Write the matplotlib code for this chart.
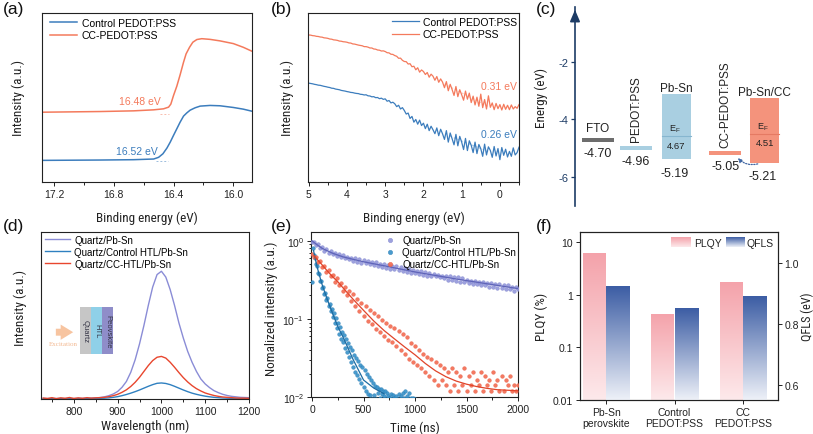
import numpy as np
import matplotlib

matplotlib.use('Agg')
import matplotlib.pyplot as plt
from matplotlib import font_manager
from matplotlib.colors import LinearSegmentedColormap
from matplotlib.patches import Rectangle, FancyArrowPatch
from matplotlib.ticker import MultipleLocator, NullFormatter


def pick_font(names):
    for n in names:
        try:
            font_manager.findfont(n, fallback_to_default=False)
            return n
        except ValueError:
            pass
    return 'DejaVu Sans'


BASE = pick_font(['Liberation Sans', 'Arial'])
NARROW = pick_font(['Liberation Sans Narrow', 'Roboto Condensed', BASE])
SERIF = pick_font(['Liberation Serif', 'DejaVu Serif'])
plt.rcParams['font.family'] = [BASE, 'DejaVu Sans']
plt.rcParams['axes.unicode_minus'] = False

# ---------------- data ----------------
# (a) secondary electron cutoff
a_e_ctrl = [17.276, 16.889, 16.667, 16.533, 16.500, 16.471, 16.444, 16.422, 16.400, 16.378, 16.356,
            16.333, 16.311, 16.289, 16.256, 16.222, 16.156, 16.089, 16.000, 15.933, 15.876]
a_y_ctrl = [12.8, 13.0, 13.2, 13.6, 14.6, 16.7, 20.1, 23.6, 27.6, 31.5, 35.4,
            39.0, 40.9, 42.5, 43.9, 44.9, 45.3, 45.1, 44.1, 43.1, 41.9]
a_e_cc = [17.276, 16.889, 16.667, 16.533, 16.467, 16.433, 16.418, 16.400, 16.378, 16.356, 16.333,
          16.316, 16.293, 16.271, 16.244, 16.211, 16.156, 16.089, 16.000, 15.933, 15.876]
a_y_cc = [41.3, 41.7, 42.1, 42.7, 43.3, 44.3, 46.1, 51.2, 56.7, 63.4, 70.9,
          75.8, 79.7, 82.7, 84.3, 84.8, 84.4, 83.5, 81.9, 79.7, 77.4]
a_tan_ctrl_e = [16.52, 16.44]
a_tan_ctrl_y = [12.2, 12.2]
a_tan_cc_e = [16.49, 16.43]
a_tan_cc_y = [40.0, 40.0]
a_onsets = ['16.52 eV', '16.48 eV']

# (b) valence band region, sampled every 0.05 eV from 5.0 to -0.5
b_y_cc = [87.0, 86.9, 86.6, 86.5, 86.2, 86.1, 85.8, 85.7, 85.3, 85.2, 85.0, 84.6, 84.5, 84.1, 84.0,
          83.8, 83.4, 83.3, 83.0, 82.9, 82.7, 82.3, 82.2, 81.7, 81.6, 81.3, 81.0, 80.8, 80.6, 80.1,
          80.1, 79.8, 79.3, 79.3, 78.7, 78.6, 78.1, 78.0, 77.5, 77.6, 77.2, 76.5, 76.4, 75.6, 75.5,
          74.8, 74.4, 73.2, 73.3, 72.0, 71.3, 71.2, 69.8, 70.0, 68.2, 68.5, 66.4, 67.6, 65.0, 66.3,
          65.4, 63.6, 64.8, 62.0, 63.8, 62.6, 60.2, 62.4, 59.0, 61.0, 59.1, 55.8, 59.4, 54.0, 57.8,
          54.7, 51.2, 56.5, 50.5, 54.6, 51.6, 48.4, 53.8, 49.0, 52.6, 47.0, 50.8, 45.6, 50.2, 44.8,
          52.0, 44.0, 48.8, 43.2, 51.0, 44.2, 46.8, 42.8, 46.5, 43.4, 45.8, 42.6, 46.0, 43.0, 45.4,
          42.8, 45.6, 43.2, 44.6, 43.6, 45.8]
b_y_ctrl = [58.5, 58.3, 58.1, 57.8, 57.6, 57.3, 57.2, 56.9, 56.6, 56.4, 56.1, 55.9, 55.5, 55.4, 55.0,
            54.8, 54.6, 54.2, 54.0, 53.8, 53.5, 53.3, 53.0, 52.9, 52.6, 52.4, 52.3, 51.9, 51.8, 51.5,
            51.6, 51.0, 50.9, 50.4, 50.5, 49.9, 50.0, 49.3, 49.6, 48.9, 49.2, 47.8, 48.2, 46.8, 47.2,
            46.3, 44.6, 45.4, 43.2, 44.0, 42.3, 40.2, 40.8, 37.6, 38.8, 35.4, 37.0, 34.2, 36.6, 33.4,
            34.8, 31.6, 34.2, 30.4, 33.0, 30.9, 28.6, 32.0, 27.4, 31.2, 28.5, 25.2, 30.4, 23.6, 29.0,
            25.6, 22.0, 28.2, 21.4, 27.0, 23.6, 19.2, 25.8, 18.6, 24.4, 21.7, 17.4, 23.6, 16.8, 22.2,
            19.7, 15.2, 22.4, 16.0, 20.8, 18.7, 14.6, 21.0, 15.4, 19.8, 13.2, 20.4, 15.8, 19.4, 14.8,
            18.1, 15.2, 20.2, 16.0, 17.4, 20.6]
b_tan_cc_e = [1.45, 0.30]
b_tan_cc_y = [58.0, 44.6]
b_tan_ctrl_e = [1.30, 0.26]
b_tan_ctrl_y = [27.0, 17.6]
b_onsets = ['0.26 eV', '0.31 eV']

# (c) energy levels (drawn) and their labels
c_names = ['FTO', 'PEDOT:PSS', 'Pb-Sn', 'CC-PEDOT:PSS', 'Pb-Sn/CC']
c_level = [-4.70, -4.98, -5.39, -5.17, -5.50]
c_top = [None, None, -3.12, None, -3.24]
c_ef = [None, None, -4.57, None, -4.49]
c_text = ['-4.70', '-4.96', '-5.19', '-5.05', '-5.21']
c_ef_text = [None, None, '4.67', None, '4.51']

# (d) steady-state PL, every 10 nm from 730 to 1200
d_ps = [0.3, 0.3, 0.3, 0.3, 0.3, 0.3, 0.3, 0.3, 0.3, 0.4, 0.4, 0.5, 0.6, 0.9, 1.3, 2.0, 3.0, 4.5,
        7.0, 10.5, 16.0, 23.5, 33.0, 44.0, 56.0, 67.0, 74.5, 76.5, 73.0, 65.5, 56.0, 45.5, 36.5,
        28.5, 22.0, 16.5, 12.0, 9.0, 6.8, 5.0, 3.8, 2.8, 2.1, 1.6, 1.3, 1.0, 0.9, 0.8]
d_cc = [0.6, 0.3, 0.8, 0.2, 0.7, 0.4, 0.9, 0.3, 0.7, 0.4, 0.8, 0.5, 0.7, 0.8, 1.0, 1.4, 2.0, 2.8,
        4.0, 5.5, 7.5, 10.0, 13.0, 16.5, 20.0, 23.0, 25.0, 25.5, 24.5, 22.0, 19.0, 15.8, 12.8,
        10.2, 8.0, 6.2, 4.8, 3.6, 2.8, 2.1, 1.6, 1.2, 1.0, 0.8, 0.6, 0.5, 0.5, 0.4]
d_ctrl = [0.2, 0.2, 0.2, 0.2, 0.2, 0.2, 0.2, 0.2, 0.2, 0.2, 0.2, 0.3, 0.3, 0.4, 0.5, 0.7, 1.0, 1.4,
          2.0, 2.7, 3.5, 4.4, 5.4, 6.5, 7.6, 8.6, 9.4, 9.6, 9.3, 8.6, 7.6, 6.5, 5.4, 4.4, 3.5,
          2.8, 2.2, 1.7, 1.3, 1.0, 0.8, 0.6, 0.5, 0.4, 0.35, 0.3, 0.3, 0.3]

# (e) TRPL, Pb-Sn and CC every 20 ns (0-2000), control every 10 ns (0-1000)
e_ps = [0.98, 0.97, 0.89, 0.90, 0.81, 0.83, 0.75, 0.78, 0.71, 0.74, 0.67, 0.71, 0.64, 0.68, 0.62,
        0.65, 0.60, 0.63, 0.58, 0.61, 0.56, 0.60, 0.54, 0.58, 0.52, 0.57, 0.52, 0.55, 0.50, 0.54,
        0.49, 0.53, 0.48, 0.51, 0.46, 0.50, 0.45, 0.49, 0.44, 0.48, 0.44, 0.47, 0.43, 0.46, 0.41,
        0.45, 0.40, 0.44, 0.39, 0.42, 0.39, 0.41, 0.38, 0.41, 0.37, 0.40, 0.36, 0.39, 0.35, 0.38,
        0.35, 0.37, 0.34, 0.36, 0.33, 0.36, 0.32, 0.35, 0.32, 0.34, 0.31, 0.34, 0.30, 0.33, 0.30,
        0.32, 0.29, 0.31, 0.28, 0.31, 0.28, 0.30, 0.27, 0.30, 0.27, 0.29, 0.26, 0.29, 0.26, 0.28,
        0.25, 0.28, 0.25, 0.27, 0.24, 0.27, 0.24, 0.26, 0.23, 0.26, 0.24]
e_ctrl = [0.30, 0.82, 0.66, 0.61, 0.50, 0.47, 0.39, 0.38, 0.31, 0.31, 0.25, 0.26, 0.21, 0.215, 0.175,
          0.185, 0.145, 0.155, 0.125, 0.135, 0.105, 0.118, 0.090, 0.102, 0.076, 0.088, 0.065, 0.078,
          0.056, 0.068, 0.050, 0.062, 0.043, 0.055, 0.038, 0.049, 0.033, 0.044, 0.028, 0.040, 0.024,
          0.035, 0.021, 0.032, 0.019, 0.029, 0.017, 0.026, 0.015, 0.024, 0.0135, 0.022, 0.012, 0.020,
          0.011, 0.018, 0.0105, 0.0165, 0.0095, 0.015, 0.0105, 0.014, 0.0095, 0.0135, 0.0112, 0.0125,
          0.0098, 0.0125, 0.0108, 0.0118, 0.0102, 0.012, 0.0095, 0.0112, 0.0102, 0.0098, 0.0096, 0.011,
          0.0093, 0.0105, 0.0097, 0.0092, 0.0104, 0.0094, 0.0108, 0.0091, 0.0103, 0.0095, 0.0113,
          0.0096, 0.0118, 0.0093, 0.0102, 0.0095, 0.0111, 0.0094, 0.0098, 0.0092, 0.0096, 0.0091, 0.0094]
e_cc = [0.68, 0.63, 0.62, 0.53, 0.55, 0.46, 0.48, 0.40, 0.42, 0.35, 0.37, 0.30, 0.33, 0.27, 0.29,
        0.23, 0.26, 0.20, 0.23, 0.17, 0.21, 0.145, 0.18, 0.125, 0.16, 0.11, 0.145, 0.095, 0.13,
        0.085, 0.12, 0.075, 0.11, 0.068, 0.098, 0.060, 0.090, 0.054, 0.082, 0.050, 0.076, 0.045,
        0.070, 0.040, 0.064, 0.0353, 0.0588, 0.0306, 0.0494, 0.0282, 0.0447, 0.0259, 0.0400, 0.0235,
        0.0353, 0.0212, 0.0329, 0.0188, 0.0306, 0.0165, 0.0282, 0.0141, 0.0259, 0.0165, 0.0235,
        0.0141, 0.0212, 0.0118, 0.0235, 0.0141, 0.0212, 0.0118, 0.0188, 0.0141, 0.0235, 0.0118,
        0.0188, 0.0141, 0.0212, 0.0118, 0.0165, 0.0141, 0.0212, 0.0118, 0.0188, 0.0141, 0.0165,
        0.0118, 0.0212, 0.0141, 0.0165, 0.0118, 0.0188, 0.0118, 0.0165, 0.0141, 0.0188, 0.0118,
        0.0141, 0.0118, 0.0141]
e_fit_ps_t = [0, 50, 100, 200, 300, 400, 500, 700, 1000, 1400, 2000]
e_fit_ps = [1.0, 0.89, 0.80, 0.695, 0.625, 0.58, 0.54, 0.48, 0.40, 0.325, 0.245]
e_fit_ctrl_t = [15, 30, 50, 75, 100, 150, 200, 250, 300, 400, 500, 600, 700]
e_fit_ctrl = [0.75, 0.60, 0.46, 0.35, 0.27, 0.175, 0.117, 0.08, 0.059, 0.03, 0.0165, 0.013, 0.011]
e_fit_cc_t = [20, 50, 100, 150, 200, 250, 300, 400, 500, 600, 700, 800, 900, 1000, 1100, 1200,
              1300, 1400, 1500, 1600, 1700, 1800, 1900, 2000]
e_fit_cc = [0.645, 0.58, 0.49, 0.41, 0.347, 0.30, 0.251, 0.178, 0.129, 0.094, 0.071, 0.0556, 0.0437,
            0.0347, 0.0269, 0.0216, 0.0182, 0.016, 0.0146, 0.0136, 0.0129, 0.0124, 0.0122, 0.012]

# (f) PLQY / QFLS
f_cats = ['Pb-Sn\nperovskite', 'Control\nPEDOT:PSS', 'CC\nPEDOT:PSS']
f_plqy = [6.2, 0.44, 1.77]
f_qfls = [0.921, 0.849, 0.889]

# ---------------- styling ----------------
C_BLUE = '#3c7dbd'
C_ORANGE = '#f47a5c'
D_PURPLE, D_BLUE, D_RED = '#8a8cd6', '#2f80c0', '#e8462e'
E_PURPLE, E_BLUE, E_RED = '#9397db', '#3590c8', '#f36a50'
TXT = '#222222'
LAB_FS = 9.5

W, H = 813, 435
fig = plt.figure(figsize=(W / 100, H / 100), dpi=100)


def add_ax(l, t, r, b):
    return fig.add_axes([l / W, 1 - b / H, (r - l) / W, (b - t) / H])


def style(ax):
    for s in ax.spines.values():
        s.set_linewidth(0.8)
        s.set_color(TXT)
    ax.tick_params(which='both', direction='out', labelsize=7.5, width=0.7, colors=TXT, pad=2)
    ax.tick_params(which='major', length=3)
    ax.tick_params(which='minor', length=1.8)


def labels(ax, xl, yl, xy, yx, yy=0.5):
    ax.set_xlabel(xl, family=NARROW, fontsize=LAB_FS, color=TXT)
    ax.set_ylabel(yl, family=NARROW, fontsize=LAB_FS, color=TXT)
    ax.xaxis.set_label_coords(0.5, xy)
    ax.yaxis.set_label_coords(yx, yy)


# ---- (a) ----
ax = add_ax(42, 14, 252, 183)
ax.plot(a_e_ctrl, a_y_ctrl, color=C_BLUE, lw=1.1, label='Control PEDOT:PSS')
ax.plot(a_e_cc, a_y_cc, color=C_ORANGE, lw=1.1, label='CC-PEDOT:PSS')
ax.plot(a_tan_ctrl_e, a_tan_ctrl_y, color=C_BLUE, lw=0.7, ls=(0, (2, 2)), alpha=0.5)
ax.plot(a_tan_cc_e, a_tan_cc_y, color=C_ORANGE, lw=0.7, ls=(0, (2, 2)), alpha=0.5)
ax.text(16.644, 18.1, a_onsets[0], color=C_BLUE, ha='center', va='center', fontsize=7.5)
ax.text(16.627, 48.2, a_onsets[1], color=C_ORANGE, ha='center', va='center', fontsize=7.5)
ax.set_xlim(17.28, 15.875)
ax.set_ylim(0, 100)
ax.set_yticks([])
ax.set_xticks([17.2, 16.8, 16.4, 16.0])
ax.xaxis.set_minor_locator(MultipleLocator(0.2))
ax.legend(loc='upper left', bbox_to_anchor=(0.03, 0.985), frameon=False, fontsize=7.5,
          handlelength=2.6, handletextpad=0.4, labelspacing=0.25, borderaxespad=0, borderpad=0.2)
style(ax)
labels(ax, 'Binding energy (eV)', 'Intensity (a.u.)', -0.17, -0.08)

# ---- (b) ----
ax = add_ax(308, 14, 519, 183)
b_e = np.linspace(5.0, -0.5, len(b_y_cc))
ax.plot(b_e, b_y_ctrl, color=C_BLUE, lw=0.9, label='Control PEDOT:PSS')
ax.plot(b_e, b_y_cc, color=C_ORANGE, lw=0.9, label='CC-PEDOT:PSS')
ax.plot(b_tan_ctrl_e, b_tan_ctrl_y, color=C_BLUE, lw=0.7, ls=(0, (2, 2)), alpha=0.45)
ax.plot(b_tan_cc_e, b_tan_cc_y, color=C_ORANGE, lw=0.7, ls=(0, (2, 2)), alpha=0.45)
ax.text(0.03, 28.5, b_onsets[0], color=C_BLUE, ha='center', va='center', fontsize=7.5)
ax.text(0.03, 56.7, b_onsets[1], color=C_ORANGE, ha='center', va='center', fontsize=7.5)
ax.set_xlim(5.02, -0.5)
ax.set_ylim(0, 100)
ax.set_yticks([])
ax.set_xticks([5, 4, 3, 2, 1, 0])
ax.xaxis.set_minor_locator(MultipleLocator(0.5))
ax.legend(loc='upper right', bbox_to_anchor=(1.0, 0.99), frameon=False, fontsize=7.5,
          handlelength=2.6, handletextpad=0.4, labelspacing=0.25, borderaxespad=0, borderpad=0.2)
style(ax)
labels(ax, 'Binding energy (eV)', 'Intensity (a.u.)', -0.17, -0.066)

# ---- (c) ----
ax = add_ax(575, 8, 813, 207)
ax.set_xlim(98, 813)
ax.set_ylim(-7.01, -0.09)
NAVY = '#1d3c66'
for k in ['top', 'right', 'bottom']:
    ax.spines[k].set_visible(False)
ax.spines['left'].set_color(NAVY)
ax.spines['left'].set_linewidth(1.2)
ax.set_xticks([])
ax.set_yticks([-6, -4, -2])
ax.tick_params(axis='y', direction='out', length=3, width=0.9, colors=NAVY, labelsize=8, pad=2)
ax.annotate('', xy=(0, 1.0), xytext=(0, 0.95), xycoords='axes fraction',
            arrowprops=dict(arrowstyle='-|>,head_length=0.7,head_width=0.3', color=NAVY, lw=1.2),
            annotation_clip=False)
ax.set_ylabel('Energy (eV)', family=NARROW, fontsize=LAB_FS, color=TXT)
ax.yaxis.set_label_coords(-0.113, 0.55)

c_x0 = [118, 233, 360, 500, 625]
c_x1 = [215, 330, 445, 598, 710]
c_col = ['#6d6d6d', '#a9cfe1', '#a9cfe1', '#f4937c', '#f4937c']
c_efcol = [None, None, '#86b6cf', None, '#e57a63']
c_thick = 0.14
for i in range(5):
    x0, x1 = c_x0[i], c_x1[i]
    xc = (x0 + x1) / 2
    if c_top[i] is None:
        ax.add_patch(Rectangle((x0, c_level[i] - c_thick / 2), x1 - x0, c_thick,
                               facecolor=c_col[i], edgecolor='none'))
        ax.text(xc, c_level[i] - 0.45, c_text[i], ha='center', va='center', fontsize=9, color=TXT)
    else:
        ax.add_patch(Rectangle((x0, c_level[i]), x1 - x0, c_top[i] - c_level[i],
                               facecolor=c_col[i], edgecolor='none'))
        ax.plot([x0, x1], [c_ef[i], c_ef[i]], color=c_efcol[i], lw=0.8)
        ax.text(xc, c_top[i] + 0.2, c_names[i], ha='center', va='center', fontsize=8.5, color=TXT)
        ax.text(xc - 5, c_ef[i] + 0.25, r'$\mathregular{E_F}$', ha='center', va='center',
                fontsize=6.5, color=TXT)
        ax.text(xc, c_ef[i] - 0.32, c_ef_text[i], ha='center', va='center', fontsize=6.8, color=TXT)
        ax.text(xc - 5, c_level[i] - 0.47, c_text[i], ha='center', va='center', fontsize=9, color=TXT)
ax.text(165, -4.30, c_names[0], ha='center', va='center', fontsize=8.5, color=TXT)
ax.text(282, c_level[1] + 0.22, c_names[1], ha='center', va='bottom', rotation=90,
        fontsize=8.5, color=TXT)
ax.text(549, c_level[3] + 0.22, c_names[3], ha='center', va='bottom', rotation=90,
        fontsize=8.5, color=TXT)
ax.add_patch(FancyArrowPatch((655, c_level[4] - 0.02), (582, c_level[3] - 0.1),
                             connectionstyle='arc3,rad=-0.35', arrowstyle='-|>', mutation_scale=6,
                             linestyle=(0, (1, 1.2)), color='#3f66a3', lw=0.9))

# ---- (d) ----
ax = add_ax(41, 233, 249, 400)
d_wl = np.linspace(730, 1200, len(d_ps))
ax.plot(d_wl, d_ps, color=D_PURPLE, lw=1.0, label='Quartz/Pb-Sn')
ax.plot(d_wl, d_ctrl, color=D_BLUE, lw=1.0, label='Quartz/Control HTL/Pb-Sn')
ax.plot(d_wl, d_cc, color=D_RED, lw=1.0, label='Quartz/CC-HTL/Pb-Sn')
ax.set_xlim(725, 1200)
ax.set_ylim(0, 100)
ax.set_yticks([])
ax.set_xticks([800, 900, 1000, 1100, 1200])
ax.xaxis.set_minor_locator(MultipleLocator(50))
ax.legend(loc='upper left', bbox_to_anchor=(0.01, 0.995), frameon=False, fontsize=7,
          handlelength=2.6, handletextpad=0.4, labelspacing=0.2, borderaxespad=0, borderpad=0.2)
# device schematic
layers = [('Quartz', '#c6c6c6'), ('HTL', '#8fd0e8'), ('Peovskite', '#8f8dc9')]
lx = [0.1875, 0.240, 0.293, 0.346]
for i, (nm, col) in enumerate(layers):
    ax.add_patch(Rectangle((lx[i], 0.269), lx[i + 1] - lx[i], 0.282, transform=ax.transAxes,
                           facecolor=col, edgecolor='none'))
    ax.text((lx[i] + lx[i + 1]) / 2, 0.41, nm, transform=ax.transAxes, rotation=-90,
            ha='center', va='center', fontsize=5.5, color='#333344')
ax.annotate('', xy=(0.168, 0.40), xytext=(0.058, 0.40), xycoords='axes fraction',
            arrowprops=dict(arrowstyle='simple,head_length=0.9,head_width=1.1,tail_width=0.5',
                            color='#f7c4a0', lw=0))
ax.text(0.108, 0.33, 'Excitation', transform=ax.transAxes, ha='center', va='center',
        fontsize=5, color='#f3b890', family=SERIF)
style(ax)
labels(ax, 'Wavelength (nm)', 'Intensity (a.u.)', -0.12, -0.067, 0.55)

# ---- (e) ----
ax = add_ax(311, 233, 518, 398)
t20 = np.linspace(0, 2000, len(e_ps))
t10 = np.linspace(0, 1000, len(e_ctrl))
ax.scatter(t20, e_ps, s=7, color=E_PURPLE, edgecolors='#7b80cc', linewidths=0.3, alpha=0.9,
           label='Quartz/Pb-Sn', zorder=3)
ax.scatter(t10, e_ctrl, s=7, color=E_BLUE, edgecolors='#2a7db5', linewidths=0.3, alpha=0.9,
           label='Quartz/Control HTL/Pb-Sn', zorder=3)
ax.scatter(t20, e_cc, s=7, color=E_RED, edgecolors='#e8583d', linewidths=0.3, alpha=0.9,
           label='Quartz/CC-HTL/Pb-Sn', zorder=3)
ax.plot(e_fit_ps_t, e_fit_ps, color='#5f64b8', lw=0.9, zorder=4)
ax.plot(e_fit_ctrl_t, e_fit_ctrl, color='#1d6ca2', lw=0.9, zorder=4)
ax.plot(e_fit_cc_t, e_fit_cc, color='#e0442a', lw=0.9, zorder=4)
ax.set_yscale('log')
ax.set_xlim(-10, 2000)
ax.set_ylim(0.01, 1.3)
ax.set_xticks([0, 500, 1000, 1500, 2000])
ax.xaxis.set_minor_locator(MultipleLocator(250))
ax.yaxis.set_minor_formatter(NullFormatter())
ax.legend(loc='upper right', bbox_to_anchor=(1.0, 0.995), frameon=False, fontsize=7,
          handletextpad=0.3, labelspacing=0.2, borderaxespad=0, borderpad=0.2, markerscale=1.2,
          scatterpoints=1)
style(ax)
labels(ax, 'Time (ns)', 'Nomalized intensity (a.u.)', -0.145, -0.16, 0.54)

# ---- (f) ----
ax = add_ax(580, 233, 778, 401)
ax.set_yscale('log')
ax.set_ylim(0.01, 15.5)
ax.set_xlim(-0.38, 2.51)
ax2 = ax.twinx()
ax2.set_ylim(0.55, 1.10)
xc = np.arange(len(f_cats))
bw = 0.338
bars1 = ax.bar(xc - bw / 2, f_plqy, width=bw, color='none', edgecolor='none')
bars2 = ax2.bar(xc + bw / 2, f_qfls, width=bw, color='none', edgecolor='none')
cm_pink = LinearSegmentedColormap.from_list('pink', ['#fde9eb', '#f4a2aa'])
cm_blue = LinearSegmentedColormap.from_list('blue', ['#eef1f8', '#3c5da4'])
grad = np.linspace(0, 1, 256).reshape(-1, 1)


def grad_bars(axis, bars, cmap):
    tr = axis.get_xaxis_transform()
    for p in bars:
        x0 = p.get_x()
        top = p.get_y() + p.get_height()
        frac = axis.transAxes.inverted().transform(axis.transData.transform((x0, top)))[1]
        axis.imshow(grad, extent=[x0, x0 + p.get_width(), 0, frac], transform=tr, origin='lower',
                    aspect='auto', cmap=cmap, interpolation='bilinear', zorder=2)


grad_bars(ax, bars1, cm_pink)
grad_bars(ax2, bars2, cm_blue)
ax.set_ylim(0.01, 15.5)
ax.set_xlim(-0.38, 2.51)
ax2.set_ylim(0.55, 1.10)
# legend with gradient swatches
for (x0, x1, cmap, txt, tx) in [(0.462, 0.563, cm_pink, 'PLQY', 0.578),
                                (0.737, 0.83, cm_blue, 'QFLS', 0.843)]:
    ax2.imshow(grad, extent=[x0, x1, 0.91, 0.965], transform=ax2.transAxes, origin='lower',
               aspect='auto', cmap=cmap, zorder=5)
    ax2.text(tx, 0.937, txt, transform=ax2.transAxes, ha='left', va='center', fontsize=7.5,
             color=TXT)
ax2.set_ylim(0.55, 1.10)
ax.set_xlim(-0.38, 2.51)
ax.set_xticks(xc)
ax.set_xticklabels(f_cats, fontsize=7.5, linespacing=1.15)
ax.set_yticks([0.01, 0.1, 1, 10])
ax.set_yticklabels(['0.01', '0.1', '1', '10'])
ax.yaxis.set_minor_locator(plt.NullLocator())
ax2.set_yticks([0.6, 0.8, 1.0])
ax2.set_yticklabels(['0.6', '0.8', '1.0'])
style(ax)
style(ax2)
ax2.tick_params(axis='y', pad=1.5)
ax.set_ylabel('PLQY (%)', family=NARROW, fontsize=LAB_FS, color=TXT)
ax.yaxis.set_label_coords(-0.16, 0.5)
ax2.set_ylabel('QFLS (eV)', family=NARROW, fontsize=8.8, color=TXT)
ax2.yaxis.set_label_coords(1.112, 0.5)

# panel letters
for lab, x, y in [('(a)', 3, 2), ('(b)', 271, 2), ('(c)', 536, 2),
                  ('(d)', 3, 219), ('(e)', 271, 219), ('(f)', 536, 219)]:
    fig.text(x / W, 1 - y / H, lab, fontsize=12.5, va='top', ha='left', color='#111111')

fig.savefig('out.png', dpi=100)
